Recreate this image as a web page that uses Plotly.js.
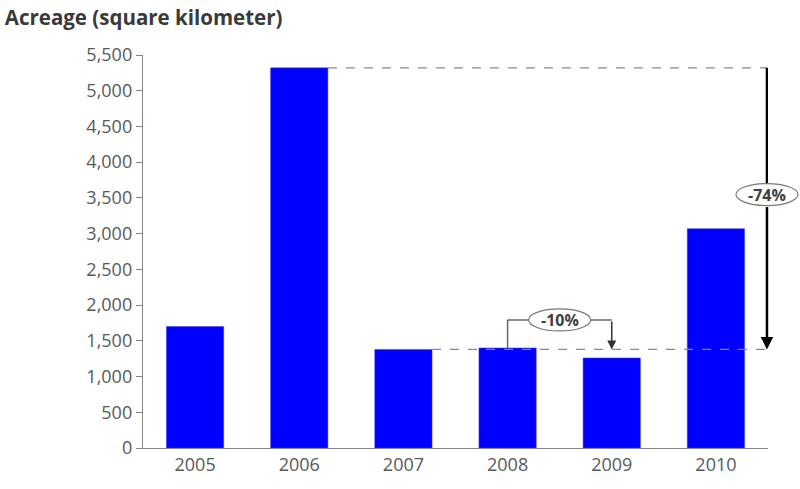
<!DOCTYPE html>
<html>
<head>
<meta charset="utf-8">
<script src="https://cdn.plot.ly/plotly-3.0.1.min.js"></script>
<style>html,body{margin:0;padding:0;background:#fff}#chart{width:800px;height:489px}</style>
</head>
<body>
<div id="chart"></div>
<script>
// ---- data ----
const years = ['2005', '2006', '2007', '2008', '2009', '2010'];
const acreage = [1700, 5320, 1380, 1400, 1260, 3070];
const yTickVals = [0, 500, 1000, 1500, 2000, 2500, 3000, 3500, 4000, 4500, 5000, 5500];
const changeLabels = ['-74%', '-10%'];

// ---- derived reference levels ----
const peak = acreage[1];
const low = acreage[2];
const midY = low + 0.55 * (peak - low);
const bracketY = acreage[3] * 1.28;
const barW = 0.55;
const lineEnd = 5.49;
const lineEndPaper = (lineEnd + 0.5) / 6;

const FONT = 'Open Sans, Liberation Sans, sans-serif';
const lineGray = '#8a8a8a';

const trace = {
  type: 'bar',
  x: years,
  y: acreage,
  width: barW,
  marker: {color: '#0000ff', line: {color: '#3a3aff', width: 0.5}},
  hoverinfo: 'skip'
};

const shapes = [
  // dashed reference lines
  {type: 'line', xref: 'x', yref: 'y', x0: 1 + barW / 2, x1: lineEnd, y0: peak, y1: peak,
   line: {color: lineGray, width: 1.2, dash: 'dash'}, layer: 'above'},
  {type: 'line', xref: 'x', yref: 'y', x0: 2 + barW / 2, x1: lineEnd, y0: low, y1: low,
   line: {color: lineGray, width: 1.2, dash: 'dash'}, layer: 'above'},
  // -74% arrow shaft (upper part, hidden under ellipse at its end)
  {type: 'line', xref: 'x', yref: 'y', x0: lineEnd, x1: lineEnd, y0: peak, y1: midY,
   line: {color: '#000', width: 2.5}, layer: 'above'},
  // -10% bracket
  {type: 'line', xref: 'x', yref: 'y', x0: 3, x1: 3, y0: acreage[3], y1: bracketY,
   line: {color: '#666', width: 1.5}, layer: 'above'},
  {type: 'line', xref: 'x', yref: 'y', x0: 3, x1: 4, y0: bracketY, y1: bracketY,
   line: {color: '#666', width: 1.5}, layer: 'above'},
  {type: 'circle', xref: 'x', yref: 'y', xsizemode: 'pixel', ysizemode: 'pixel',
   xanchor: 3.5, yanchor: bracketY, x0: -31, x1: 31, y0: -11, y1: 11,
   fillcolor: '#ffffff', line: {color: '#777', width: 1.2}, layer: 'above'},
  // -74% ellipse (paper x so it is not clipped at the plot edge)
  {type: 'circle', xref: 'paper', yref: 'y', xsizemode: 'pixel', ysizemode: 'pixel',
   xanchor: lineEndPaper, yanchor: midY, x0: -31, x1: 31, y0: -11, y1: 11,
   fillcolor: '#ffffff', line: {color: '#777', width: 1.2}, layer: 'above'}
];

const annotations = [
  // -74% arrow lower segment with head
  {xref: 'x', yref: 'y', x: lineEnd, y: low, ax: 0, ay: midY, axref: 'pixel', ayref: 'y',
   showarrow: true, arrowhead: 2, arrowsize: 1, arrowwidth: 2.5, arrowcolor: '#000', startstandoff: 11, text: ''},
  {xref: 'x', yref: 'y', x: lineEnd, y: midY, xanchor: 'center', yanchor: 'middle', showarrow: false,
   text: '<b>' + changeLabels[0] + '</b>', font: {family: FONT, size: 16, color: '#404040'}},
  // -10% arrow
  {xref: 'x', yref: 'y', x: 4, y: low, ax: 0, ay: bracketY, axref: 'pixel', ayref: 'y',
   showarrow: true, arrowhead: 2, arrowsize: 1.2, arrowwidth: 1.5, arrowcolor: '#333', text: ''},
  {xref: 'x', yref: 'y', x: 3.5, y: bracketY, xanchor: 'center', yanchor: 'middle', showarrow: false,
   text: '<b>' + changeLabels[1] + '</b>', font: {family: FONT, size: 16, color: '#404040'}}
];

const layout = {
  width: 800, height: 489,
  margin: {l: 143, r: 32, t: 55, b: 41},
  paper_bgcolor: '#ffffff', plot_bgcolor: '#ffffff',
  showlegend: false,
  font: {family: FONT, color: '#595959'},
  title: {text: '<b>Acreage (square kilometer)</b>', xref: 'container', yref: 'container',
          x: 0.006, xanchor: 'left', y: 0.963, yanchor: 'middle',
          font: {family: FONT, size: 20.5, color: '#3a3a3a'}},
  xaxis: {type: 'category', showgrid: false, zeroline: false, showline: true, linecolor: '#868686',
          linewidth: 1.2, ticks: '', tickfont: {family: FONT, size: 18, color: '#595959'},
          range: [-0.5, 5.5], fixedrange: true},
  yaxis: {range: [0, 5500], tickvals: yTickVals, tickformat: ',', showgrid: false, zeroline: false,
          showline: true, linecolor: '#868686', linewidth: 1.2, ticks: 'outside', ticklen: 6,
          tickcolor: '#868686', tickfont: {family: FONT, size: 18, color: '#595959'}, fixedrange: true},
  shapes: shapes,
  annotations: annotations
};

Plotly.newPlot('chart', [trace], layout, {displayModeBar: false, staticPlot: true});
</script>
</body>
</html>
